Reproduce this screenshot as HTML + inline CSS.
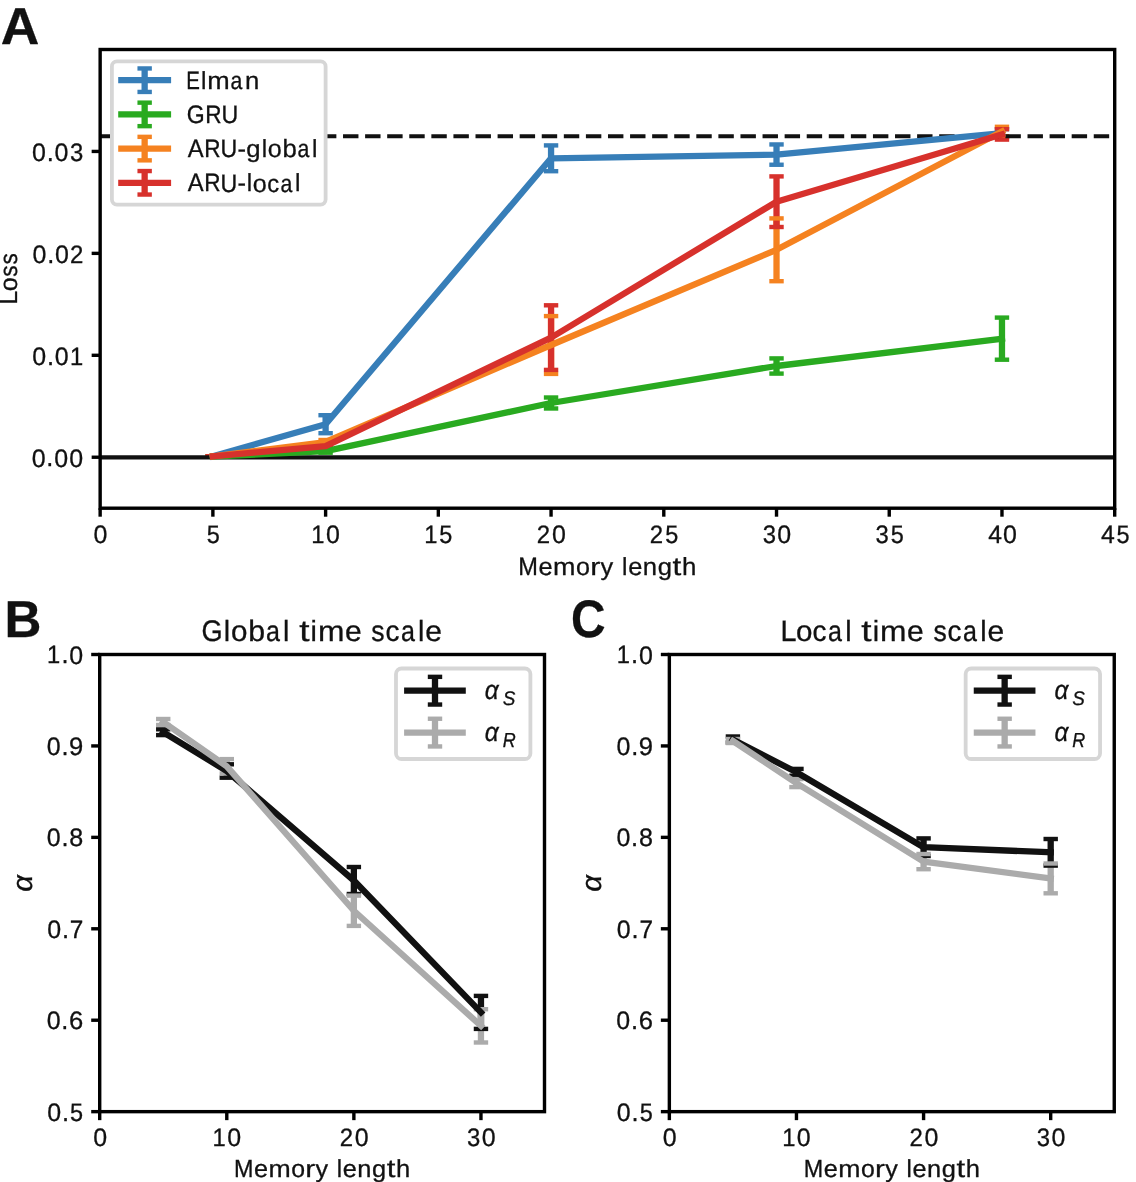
<!DOCTYPE html>
<html><head><meta charset="utf-8"><style>
html,body{margin:0;padding:0;background:#fff;}
svg{display:block;will-change:transform;}
</style></head><body>
<svg width="1136" height="1182" viewBox="0 0 1136 1182" text-rendering="geometricPrecision">
<rect width="1136" height="1182" fill="#fff"/>
<line x1="325.61" y1="415.20" x2="325.61" y2="433.20" stroke="#377eb8" stroke-width="6.3" stroke-linecap="butt"/>
<line x1="551.06" y1="145.40" x2="551.06" y2="171.20" stroke="#377eb8" stroke-width="6.3" stroke-linecap="butt"/>
<line x1="776.52" y1="144.45" x2="776.52" y2="164.75" stroke="#377eb8" stroke-width="6.3" stroke-linecap="butt"/>
<line x1="1001.97" y1="129.10" x2="1001.97" y2="137.10" stroke="#377eb8" stroke-width="6.3" stroke-linecap="butt"/>
<line x1="325.61" y1="449.70" x2="325.61" y2="452.70" stroke="#29aa20" stroke-width="6.3" stroke-linecap="butt"/>
<line x1="551.06" y1="397.50" x2="551.06" y2="408.50" stroke="#29aa20" stroke-width="6.3" stroke-linecap="butt"/>
<line x1="776.52" y1="358.40" x2="776.52" y2="373.60" stroke="#29aa20" stroke-width="6.3" stroke-linecap="butt"/>
<line x1="1001.97" y1="317.60" x2="1001.97" y2="359.70" stroke="#29aa20" stroke-width="6.3" stroke-linecap="butt"/>
<line x1="325.61" y1="440.00" x2="325.61" y2="444.00" stroke="#f58220" stroke-width="6.3" stroke-linecap="butt"/>
<line x1="551.06" y1="316.10" x2="551.06" y2="373.90" stroke="#f58220" stroke-width="6.3" stroke-linecap="butt"/>
<line x1="776.52" y1="218.40" x2="776.52" y2="281.20" stroke="#f58220" stroke-width="6.3" stroke-linecap="butt"/>
<line x1="1001.97" y1="126.80" x2="1001.97" y2="136.20" stroke="#f58220" stroke-width="6.3" stroke-linecap="butt"/>
<line x1="325.61" y1="445.10" x2="325.61" y2="447.10" stroke="#d7312c" stroke-width="6.3" stroke-linecap="butt"/>
<line x1="551.06" y1="305.30" x2="551.06" y2="369.90" stroke="#d7312c" stroke-width="6.3" stroke-linecap="butt"/>
<line x1="776.52" y1="176.40" x2="776.52" y2="227.00" stroke="#d7312c" stroke-width="6.3" stroke-linecap="butt"/>
<line x1="1001.97" y1="129.20" x2="1001.97" y2="139.60" stroke="#d7312c" stroke-width="6.3" stroke-linecap="butt"/>
<rect x="205.68" y="454.10" width="14.40" height="4.40" fill="#377eb8"/>
<rect x="205.68" y="454.10" width="14.40" height="4.40" fill="#377eb8"/>
<rect x="318.41" y="413.00" width="14.40" height="4.40" fill="#377eb8"/>
<rect x="318.41" y="431.00" width="14.40" height="4.40" fill="#377eb8"/>
<rect x="543.86" y="143.20" width="14.40" height="4.40" fill="#377eb8"/>
<rect x="543.86" y="169.00" width="14.40" height="4.40" fill="#377eb8"/>
<rect x="769.32" y="142.25" width="14.40" height="4.40" fill="#377eb8"/>
<rect x="769.32" y="162.55" width="14.40" height="4.40" fill="#377eb8"/>
<rect x="994.77" y="126.90" width="14.40" height="4.40" fill="#377eb8"/>
<rect x="994.77" y="134.90" width="14.40" height="4.40" fill="#377eb8"/>
<rect x="205.68" y="454.30" width="14.40" height="4.40" fill="#29aa20"/>
<rect x="205.68" y="454.30" width="14.40" height="4.40" fill="#29aa20"/>
<rect x="318.41" y="447.50" width="14.40" height="4.40" fill="#29aa20"/>
<rect x="318.41" y="450.50" width="14.40" height="4.40" fill="#29aa20"/>
<rect x="543.86" y="395.30" width="14.40" height="4.40" fill="#29aa20"/>
<rect x="543.86" y="406.30" width="14.40" height="4.40" fill="#29aa20"/>
<rect x="769.32" y="356.20" width="14.40" height="4.40" fill="#29aa20"/>
<rect x="769.32" y="371.40" width="14.40" height="4.40" fill="#29aa20"/>
<rect x="994.77" y="315.40" width="14.40" height="4.40" fill="#29aa20"/>
<rect x="994.77" y="357.50" width="14.40" height="4.40" fill="#29aa20"/>
<rect x="205.68" y="454.10" width="14.40" height="4.40" fill="#f58220"/>
<rect x="205.68" y="454.10" width="14.40" height="4.40" fill="#f58220"/>
<rect x="318.41" y="437.80" width="14.40" height="4.40" fill="#f58220"/>
<rect x="318.41" y="441.80" width="14.40" height="4.40" fill="#f58220"/>
<rect x="543.86" y="313.90" width="14.40" height="4.40" fill="#f58220"/>
<rect x="543.86" y="371.70" width="14.40" height="4.40" fill="#f58220"/>
<rect x="769.32" y="216.20" width="14.40" height="4.40" fill="#f58220"/>
<rect x="769.32" y="279.00" width="14.40" height="4.40" fill="#f58220"/>
<rect x="994.77" y="124.60" width="14.40" height="4.40" fill="#f58220"/>
<rect x="994.77" y="134.00" width="14.40" height="4.40" fill="#f58220"/>
<rect x="205.68" y="454.10" width="14.40" height="4.40" fill="#d7312c"/>
<rect x="205.68" y="454.10" width="14.40" height="4.40" fill="#d7312c"/>
<rect x="318.41" y="442.90" width="14.40" height="4.40" fill="#d7312c"/>
<rect x="318.41" y="444.90" width="14.40" height="4.40" fill="#d7312c"/>
<rect x="543.86" y="303.10" width="14.40" height="4.40" fill="#d7312c"/>
<rect x="543.86" y="367.70" width="14.40" height="4.40" fill="#d7312c"/>
<rect x="769.32" y="174.20" width="14.40" height="4.40" fill="#d7312c"/>
<rect x="769.32" y="224.80" width="14.40" height="4.40" fill="#d7312c"/>
<rect x="994.77" y="127.00" width="14.40" height="4.40" fill="#d7312c"/>
<rect x="994.77" y="137.40" width="14.40" height="4.40" fill="#d7312c"/>
<line x1="100.15" y1="457.45" x2="1114.70" y2="457.45" stroke="#111" stroke-width="4.3" stroke-linecap="butt"/>
<line x1="100.15" y1="136.2" x2="1114.70" y2="136.2" stroke="#111" stroke-width="4.1" stroke-dasharray="15.42 6.66"/>
<polyline points="212.88,456.30 325.61,424.20 551.06,158.30 776.52,154.60 1001.97,133.10" fill="none" stroke="#377eb8" stroke-width="6.3" stroke-linecap="square" stroke-linejoin="round"/>
<polyline points="212.88,456.50 325.61,451.20 551.06,403.00 776.52,366.00 1001.97,338.65" fill="none" stroke="#29aa20" stroke-width="6.3" stroke-linecap="square" stroke-linejoin="round"/>
<polyline points="212.88,456.30 325.61,442.00 551.06,345.00 776.52,249.80 1001.97,131.50" fill="none" stroke="#f58220" stroke-width="6.3" stroke-linecap="square" stroke-linejoin="round"/>
<polyline points="212.88,456.30 325.61,446.10 551.06,337.60 776.52,201.70 1001.97,134.40" fill="none" stroke="#d7312c" stroke-width="6.3" stroke-linecap="square" stroke-linejoin="round"/>
<rect x="100.15" y="49.50" width="1014.55" height="458.70" fill="none" stroke="#000" stroke-width="3.4"/>
<line x1="100.15" y1="508.20" x2="100.15" y2="516.70" stroke="#000" stroke-width="3.4" stroke-linecap="butt"/>
<line x1="212.88" y1="508.20" x2="212.88" y2="516.70" stroke="#000" stroke-width="3.4" stroke-linecap="butt"/>
<line x1="325.61" y1="508.20" x2="325.61" y2="516.70" stroke="#000" stroke-width="3.4" stroke-linecap="butt"/>
<line x1="438.33" y1="508.20" x2="438.33" y2="516.70" stroke="#000" stroke-width="3.4" stroke-linecap="butt"/>
<line x1="551.06" y1="508.20" x2="551.06" y2="516.70" stroke="#000" stroke-width="3.4" stroke-linecap="butt"/>
<line x1="663.79" y1="508.20" x2="663.79" y2="516.70" stroke="#000" stroke-width="3.4" stroke-linecap="butt"/>
<line x1="776.52" y1="508.20" x2="776.52" y2="516.70" stroke="#000" stroke-width="3.4" stroke-linecap="butt"/>
<line x1="889.24" y1="508.20" x2="889.24" y2="516.70" stroke="#000" stroke-width="3.4" stroke-linecap="butt"/>
<line x1="1001.97" y1="508.20" x2="1001.97" y2="516.70" stroke="#000" stroke-width="3.4" stroke-linecap="butt"/>
<line x1="1114.70" y1="508.20" x2="1114.70" y2="516.70" stroke="#000" stroke-width="3.4" stroke-linecap="butt"/>
<line x1="91.65" y1="457.23" x2="100.15" y2="457.23" stroke="#000" stroke-width="3.4" stroke-linecap="butt"/>
<line x1="91.65" y1="355.30" x2="100.15" y2="355.30" stroke="#000" stroke-width="3.4" stroke-linecap="butt"/>
<line x1="91.65" y1="253.37" x2="100.15" y2="253.37" stroke="#000" stroke-width="3.4" stroke-linecap="butt"/>
<line x1="91.65" y1="151.43" x2="100.15" y2="151.43" stroke="#000" stroke-width="3.4" stroke-linecap="butt"/>
<rect x="111.90" y="61.40" width="213.70" height="143.20" rx="5.0" ry="5.0" fill="#fff" stroke="#d6d6d6" stroke-width="3.8"/>
<line x1="118.20" y1="80.20" x2="171.10" y2="80.20" stroke="#377eb8" stroke-width="6.3" stroke-linecap="butt"/>
<line x1="144.65" y1="68.45" x2="144.65" y2="91.95" stroke="#377eb8" stroke-width="6.3" stroke-linecap="butt"/>
<rect x="137.45" y="66.25" width="14.40" height="4.40" fill="#377eb8"/>
<rect x="137.45" y="89.75" width="14.40" height="4.40" fill="#377eb8"/>
<g fill="#111" stroke="#111"><text transform="matrix(0.5112 0 0 0.6265 186.21 88.80)" font-size="40.0" font-family="Liberation Sans, sans-serif" stroke-width="0.527">E</text><text transform="matrix(0.6069 0 0 0.6185 201.11 88.80)" font-size="40.0" font-family="Liberation Sans, sans-serif" stroke-width="0.490">l</text><text transform="matrix(0.6743 0 0 0.6147 207.37 88.80)" font-size="40.0" font-family="Liberation Sans, sans-serif" stroke-width="0.465">m</text><text transform="matrix(0.5324 0 0 0.6196 230.57 88.91)" font-size="40.0" font-family="Liberation Sans, sans-serif" stroke-width="0.521">a</text><text transform="matrix(0.6424 0 0 0.6147 244.91 88.80)" font-size="40.0" font-family="Liberation Sans, sans-serif" stroke-width="0.477">n</text></g>
<line x1="118.20" y1="114.40" x2="171.10" y2="114.40" stroke="#29aa20" stroke-width="6.3" stroke-linecap="butt"/>
<line x1="144.65" y1="102.65" x2="144.65" y2="126.15" stroke="#29aa20" stroke-width="6.3" stroke-linecap="butt"/>
<rect x="137.45" y="100.45" width="14.40" height="4.40" fill="#29aa20"/>
<rect x="137.45" y="123.95" width="14.40" height="4.40" fill="#29aa20"/>
<g fill="#111" stroke="#111"><text transform="matrix(0.5764 0 0 0.6317 186.75 123.13)" font-size="40.0" font-family="Liberation Sans, sans-serif" stroke-width="0.497">G</text><text transform="matrix(0.5651 0 0 0.6265 205.33 123.03)" font-size="40.0" font-family="Liberation Sans, sans-serif" stroke-width="0.504">R</text><text transform="matrix(0.5796 0 0 0.6302 221.56 123.13)" font-size="40.0" font-family="Liberation Sans, sans-serif" stroke-width="0.496">U</text></g>
<line x1="118.20" y1="148.60" x2="171.10" y2="148.60" stroke="#f58220" stroke-width="6.3" stroke-linecap="butt"/>
<line x1="144.65" y1="136.85" x2="144.65" y2="160.35" stroke="#f58220" stroke-width="6.3" stroke-linecap="butt"/>
<rect x="137.45" y="134.65" width="14.40" height="4.40" fill="#f58220"/>
<rect x="137.45" y="158.15" width="14.40" height="4.40" fill="#f58220"/>
<g fill="#111" stroke="#111"><text transform="matrix(0.5945 0 0 0.6265 187.84 157.26)" font-size="40.0" font-family="Liberation Sans, sans-serif" stroke-width="0.491">A</text><text transform="matrix(0.5651 0 0 0.6265 204.30 157.26)" font-size="40.0" font-family="Liberation Sans, sans-serif" stroke-width="0.504">R</text><text transform="matrix(0.5796 0 0 0.6302 220.53 157.36)" font-size="40.0" font-family="Liberation Sans, sans-serif" stroke-width="0.496">U</text><text transform="matrix(0.6387 0 0 0.6090 237.57 157.26)" font-size="40.0" font-family="Liberation Sans, sans-serif" stroke-width="0.481">-</text><text transform="matrix(0.6424 0 0 0.6078 246.26 157.11)" font-size="40.0" font-family="Liberation Sans, sans-serif" stroke-width="0.480">g</text><text transform="matrix(0.6069 0 0 0.6185 261.64 157.26)" font-size="40.0" font-family="Liberation Sans, sans-serif" stroke-width="0.490">l</text><text transform="matrix(0.6275 0 0 0.6196 267.83 157.37)" font-size="40.0" font-family="Liberation Sans, sans-serif" stroke-width="0.481">o</text><text transform="matrix(0.6424 0 0 0.6221 282.49 157.37)" font-size="40.0" font-family="Liberation Sans, sans-serif" stroke-width="0.474">b</text><text transform="matrix(0.5324 0 0 0.6196 297.52 157.37)" font-size="40.0" font-family="Liberation Sans, sans-serif" stroke-width="0.521">a</text><text transform="matrix(0.6069 0 0 0.6185 312.08 157.26)" font-size="40.0" font-family="Liberation Sans, sans-serif" stroke-width="0.490">l</text></g>
<line x1="118.20" y1="182.80" x2="171.10" y2="182.80" stroke="#d7312c" stroke-width="6.3" stroke-linecap="butt"/>
<line x1="144.65" y1="171.05" x2="144.65" y2="194.55" stroke="#d7312c" stroke-width="6.3" stroke-linecap="butt"/>
<rect x="137.45" y="168.85" width="14.40" height="4.40" fill="#d7312c"/>
<rect x="137.45" y="192.35" width="14.40" height="4.40" fill="#d7312c"/>
<g fill="#111" stroke="#111"><text transform="matrix(0.5945 0 0 0.6265 187.84 191.49)" font-size="40.0" font-family="Liberation Sans, sans-serif" stroke-width="0.491">A</text><text transform="matrix(0.5651 0 0 0.6265 204.30 191.49)" font-size="40.0" font-family="Liberation Sans, sans-serif" stroke-width="0.504">R</text><text transform="matrix(0.5796 0 0 0.6302 220.53 191.59)" font-size="40.0" font-family="Liberation Sans, sans-serif" stroke-width="0.496">U</text><text transform="matrix(0.6387 0 0 0.6090 237.57 191.49)" font-size="40.0" font-family="Liberation Sans, sans-serif" stroke-width="0.481">-</text><text transform="matrix(0.6069 0 0 0.6185 246.66 191.49)" font-size="40.0" font-family="Liberation Sans, sans-serif" stroke-width="0.490">l</text><text transform="matrix(0.6275 0 0 0.6196 252.85 191.60)" font-size="40.0" font-family="Liberation Sans, sans-serif" stroke-width="0.481">o</text><text transform="matrix(0.5934 0 0 0.6196 267.34 191.60)" font-size="40.0" font-family="Liberation Sans, sans-serif" stroke-width="0.495">c</text><text transform="matrix(0.5324 0 0 0.6196 280.54 191.60)" font-size="40.0" font-family="Liberation Sans, sans-serif" stroke-width="0.521">a</text><text transform="matrix(0.6069 0 0 0.6185 295.09 191.49)" font-size="40.0" font-family="Liberation Sans, sans-serif" stroke-width="0.490">l</text></g>
<g fill="#111" stroke="#111"><text transform="matrix(0.6240 0 0 0.6317 32.01 160.78)" font-size="40.0" font-family="Liberation Sans, sans-serif" stroke-width="0.478">0</text><text transform="matrix(0.6366 0 0 0.6860 46.68 160.68)" font-size="40.0" font-family="Liberation Sans, sans-serif" stroke-width="0.454">.</text><text transform="matrix(0.6240 0 0 0.6317 54.53 160.78)" font-size="40.0" font-family="Liberation Sans, sans-serif" stroke-width="0.478">0</text><text transform="matrix(0.5962 0 0 0.6317 69.89 160.78)" font-size="40.0" font-family="Liberation Sans, sans-serif" stroke-width="0.489">3</text></g>
<g fill="#111" stroke="#111"><text transform="matrix(0.6240 0 0 0.6317 32.49 262.72)" font-size="40.0" font-family="Liberation Sans, sans-serif" stroke-width="0.478">0</text><text transform="matrix(0.6366 0 0 0.6860 47.15 262.62)" font-size="40.0" font-family="Liberation Sans, sans-serif" stroke-width="0.454">.</text><text transform="matrix(0.6240 0 0 0.6317 55.00 262.72)" font-size="40.0" font-family="Liberation Sans, sans-serif" stroke-width="0.478">0</text><text transform="matrix(0.5997 0 0 0.6281 69.99 262.62)" font-size="40.0" font-family="Liberation Sans, sans-serif" stroke-width="0.489">2</text></g>
<g fill="#111" stroke="#111"><text transform="matrix(0.6240 0 0 0.6317 32.25 364.65)" font-size="40.0" font-family="Liberation Sans, sans-serif" stroke-width="0.478">0</text><text transform="matrix(0.6366 0 0 0.6860 46.91 364.55)" font-size="40.0" font-family="Liberation Sans, sans-serif" stroke-width="0.454">.</text><text transform="matrix(0.6240 0 0 0.6317 54.77 364.65)" font-size="40.0" font-family="Liberation Sans, sans-serif" stroke-width="0.478">0</text><text transform="matrix(0.5934 0 0 0.6265 70.06 364.55)" font-size="40.0" font-family="Liberation Sans, sans-serif" stroke-width="0.492">1</text></g>
<g fill="#111" stroke="#111"><text transform="matrix(0.6240 0 0 0.6317 31.66 466.58)" font-size="40.0" font-family="Liberation Sans, sans-serif" stroke-width="0.478">0</text><text transform="matrix(0.6366 0 0 0.6860 46.32 466.48)" font-size="40.0" font-family="Liberation Sans, sans-serif" stroke-width="0.454">.</text><text transform="matrix(0.6240 0 0 0.6317 54.18 466.58)" font-size="40.0" font-family="Liberation Sans, sans-serif" stroke-width="0.478">0</text><text transform="matrix(0.6240 0 0 0.6317 69.19 466.58)" font-size="40.0" font-family="Liberation Sans, sans-serif" stroke-width="0.478">0</text></g>
<g fill="#111" stroke="#111"><text transform="matrix(0.6240 0 0 0.6317 93.59 543.00)" font-size="40.0" font-family="Liberation Sans, sans-serif" stroke-width="0.478">0</text></g>
<g fill="#111" stroke="#111"><text transform="matrix(0.5869 0 0 0.6302 206.76 543.00)" font-size="40.0" font-family="Liberation Sans, sans-serif" stroke-width="0.493">5</text></g>
<g fill="#111" stroke="#111"><text transform="matrix(0.5934 0 0 0.6265 311.27 542.90)" font-size="40.0" font-family="Liberation Sans, sans-serif" stroke-width="0.492">1</text><text transform="matrix(0.6240 0 0 0.6317 326.01 543.00)" font-size="40.0" font-family="Liberation Sans, sans-serif" stroke-width="0.478">0</text></g>
<g fill="#111" stroke="#111"><text transform="matrix(0.5934 0 0 0.6265 424.24 542.90)" font-size="40.0" font-family="Liberation Sans, sans-serif" stroke-width="0.492">1</text><text transform="matrix(0.5869 0 0 0.6302 439.33 543.00)" font-size="40.0" font-family="Liberation Sans, sans-serif" stroke-width="0.493">5</text></g>
<g fill="#111" stroke="#111"><text transform="matrix(0.5997 0 0 0.6281 536.87 542.90)" font-size="40.0" font-family="Liberation Sans, sans-serif" stroke-width="0.489">2</text><text transform="matrix(0.6240 0 0 0.6317 551.91 543.00)" font-size="40.0" font-family="Liberation Sans, sans-serif" stroke-width="0.478">0</text></g>
<g fill="#111" stroke="#111"><text transform="matrix(0.5997 0 0 0.6281 649.83 542.90)" font-size="40.0" font-family="Liberation Sans, sans-serif" stroke-width="0.489">2</text><text transform="matrix(0.5869 0 0 0.6302 665.23 543.00)" font-size="40.0" font-family="Liberation Sans, sans-serif" stroke-width="0.493">5</text></g>
<g fill="#111" stroke="#111"><text transform="matrix(0.5962 0 0 0.6317 762.66 543.00)" font-size="40.0" font-family="Liberation Sans, sans-serif" stroke-width="0.489">3</text><text transform="matrix(0.6240 0 0 0.6317 777.33 543.00)" font-size="40.0" font-family="Liberation Sans, sans-serif" stroke-width="0.478">0</text></g>
<g fill="#111" stroke="#111"><text transform="matrix(0.5962 0 0 0.6317 875.62 543.00)" font-size="40.0" font-family="Liberation Sans, sans-serif" stroke-width="0.489">3</text><text transform="matrix(0.5869 0 0 0.6302 890.65 543.00)" font-size="40.0" font-family="Liberation Sans, sans-serif" stroke-width="0.493">5</text></g>
<g fill="#111" stroke="#111"><text transform="matrix(0.6192 0 0 0.6265 988.16 542.90)" font-size="40.0" font-family="Liberation Sans, sans-serif" stroke-width="0.482">4</text><text transform="matrix(0.6240 0 0 0.6317 1003.08 543.00)" font-size="40.0" font-family="Liberation Sans, sans-serif" stroke-width="0.478">0</text></g>
<g fill="#111" stroke="#111"><text transform="matrix(0.6192 0 0 0.6265 1101.12 542.90)" font-size="40.0" font-family="Liberation Sans, sans-serif" stroke-width="0.482">4</text><text transform="matrix(0.5869 0 0 0.6302 1116.40 543.00)" font-size="40.0" font-family="Liberation Sans, sans-serif" stroke-width="0.493">5</text></g>
<g fill="#111" stroke="#111"><text transform="matrix(0.5900 0 0 0.6265 518.28 575.10)" font-size="40.0" font-family="Liberation Sans, sans-serif" stroke-width="0.493">M</text><text transform="matrix(0.6371 0 0 0.6196 538.50 575.21)" font-size="40.0" font-family="Liberation Sans, sans-serif" stroke-width="0.477">e</text><text transform="matrix(0.6743 0 0 0.6147 553.11 575.10)" font-size="40.0" font-family="Liberation Sans, sans-serif" stroke-width="0.465">m</text><text transform="matrix(0.6275 0 0 0.6196 576.02 575.21)" font-size="40.0" font-family="Liberation Sans, sans-serif" stroke-width="0.481">o</text><text transform="matrix(0.7552 0 0 0.6147 590.32 575.10)" font-size="40.0" font-family="Liberation Sans, sans-serif" stroke-width="0.438">r</text><text transform="matrix(0.6347 0 0 0.6061 600.58 574.97)" font-size="40.0" font-family="Liberation Sans, sans-serif" stroke-width="0.484">y</text><text transform="matrix(0.6069 0 0 0.6185 622.01 575.10)" font-size="40.0" font-family="Liberation Sans, sans-serif" stroke-width="0.490">l</text><text transform="matrix(0.6371 0 0 0.6196 628.18 575.21)" font-size="40.0" font-family="Liberation Sans, sans-serif" stroke-width="0.477">e</text><text transform="matrix(0.6424 0 0 0.6147 642.87 575.10)" font-size="40.0" font-family="Liberation Sans, sans-serif" stroke-width="0.477">n</text><text transform="matrix(0.6424 0 0 0.6078 657.64 574.95)" font-size="40.0" font-family="Liberation Sans, sans-serif" stroke-width="0.480">g</text><text transform="matrix(0.7867 0 0 0.6352 672.60 574.91)" font-size="40.0" font-family="Liberation Sans, sans-serif" stroke-width="0.422">t</text><text transform="matrix(0.6462 0 0 0.6185 681.99 575.10)" font-size="40.0" font-family="Liberation Sans, sans-serif" stroke-width="0.474">h</text></g>
<g fill="#111" stroke="#111" transform="translate(17.00,278.25) rotate(-90)"><text transform="matrix(0.6101 0 0 0.6265 -26.17 0.00)" font-size="40.0" font-family="Liberation Sans, sans-serif" stroke-width="0.485">L</text><text transform="matrix(0.6275 0 0 0.6196 -13.08 0.11)" font-size="40.0" font-family="Liberation Sans, sans-serif" stroke-width="0.481">o</text><text transform="matrix(0.5630 0 0 0.6196 1.39 0.11)" font-size="40.0" font-family="Liberation Sans, sans-serif" stroke-width="0.507">s</text><text transform="matrix(0.5630 0 0 0.6196 13.69 0.11)" font-size="40.0" font-family="Liberation Sans, sans-serif" stroke-width="0.507">s</text></g>
<text transform="matrix(1.3358 0 0 1.3018 0.66 43.80)" font-size="40.0" font-family="Liberation Sans, sans-serif" font-weight="bold" fill="#111" stroke="#111" stroke-width="0.227">A</text>
<line x1="163.24" y1="729.30" x2="163.24" y2="735.10" stroke="#111111" stroke-width="6.3" stroke-linecap="butt"/>
<line x1="226.79" y1="764.30" x2="226.79" y2="777.70" stroke="#111111" stroke-width="6.3" stroke-linecap="butt"/>
<line x1="353.87" y1="867.00" x2="353.87" y2="894.00" stroke="#111111" stroke-width="6.3" stroke-linecap="butt"/>
<line x1="480.96" y1="995.90" x2="480.96" y2="1028.90" stroke="#111111" stroke-width="6.3" stroke-linecap="butt"/>
<line x1="163.24" y1="719.00" x2="163.24" y2="725.00" stroke="#ababab" stroke-width="6.3" stroke-linecap="butt"/>
<line x1="226.79" y1="759.10" x2="226.79" y2="773.50" stroke="#ababab" stroke-width="6.3" stroke-linecap="butt"/>
<line x1="353.87" y1="895.60" x2="353.87" y2="925.90" stroke="#ababab" stroke-width="6.3" stroke-linecap="butt"/>
<line x1="480.96" y1="1009.20" x2="480.96" y2="1042.50" stroke="#ababab" stroke-width="6.3" stroke-linecap="butt"/>
<rect x="156.04" y="727.10" width="14.40" height="4.40" fill="#111111"/>
<rect x="156.04" y="732.90" width="14.40" height="4.40" fill="#111111"/>
<rect x="219.59" y="762.10" width="14.40" height="4.40" fill="#111111"/>
<rect x="219.59" y="775.50" width="14.40" height="4.40" fill="#111111"/>
<rect x="346.67" y="864.80" width="14.40" height="4.40" fill="#111111"/>
<rect x="346.67" y="891.80" width="14.40" height="4.40" fill="#111111"/>
<rect x="473.76" y="993.70" width="14.40" height="4.40" fill="#111111"/>
<rect x="473.76" y="1026.70" width="14.40" height="4.40" fill="#111111"/>
<rect x="156.04" y="716.80" width="14.40" height="4.40" fill="#ababab"/>
<rect x="156.04" y="722.80" width="14.40" height="4.40" fill="#ababab"/>
<rect x="219.59" y="756.90" width="14.40" height="4.40" fill="#ababab"/>
<rect x="219.59" y="771.30" width="14.40" height="4.40" fill="#ababab"/>
<rect x="346.67" y="893.40" width="14.40" height="4.40" fill="#ababab"/>
<rect x="346.67" y="923.70" width="14.40" height="4.40" fill="#ababab"/>
<rect x="473.76" y="1007.00" width="14.40" height="4.40" fill="#ababab"/>
<rect x="473.76" y="1040.30" width="14.40" height="4.40" fill="#ababab"/>
<polyline points="163.24,732.20 226.79,771.00 353.87,880.50 480.96,1012.40" fill="none" stroke="#111111" stroke-width="6.3" stroke-linecap="square" stroke-linejoin="round"/>
<polyline points="163.24,722.00 226.79,766.30 353.87,910.75 480.96,1025.85" fill="none" stroke="#ababab" stroke-width="6.3" stroke-linecap="square" stroke-linejoin="round"/>
<rect x="99.70" y="654.50" width="444.80" height="457.15" fill="none" stroke="#000" stroke-width="3.4"/>
<line x1="99.70" y1="1111.65" x2="99.70" y2="1120.15" stroke="#000" stroke-width="3.4" stroke-linecap="butt"/>
<line x1="226.79" y1="1111.65" x2="226.79" y2="1120.15" stroke="#000" stroke-width="3.4" stroke-linecap="butt"/>
<line x1="353.87" y1="1111.65" x2="353.87" y2="1120.15" stroke="#000" stroke-width="3.4" stroke-linecap="butt"/>
<line x1="480.96" y1="1111.65" x2="480.96" y2="1120.15" stroke="#000" stroke-width="3.4" stroke-linecap="butt"/>
<line x1="91.20" y1="1111.65" x2="99.70" y2="1111.65" stroke="#000" stroke-width="3.4" stroke-linecap="butt"/>
<line x1="91.20" y1="1020.22" x2="99.70" y2="1020.22" stroke="#000" stroke-width="3.4" stroke-linecap="butt"/>
<line x1="91.20" y1="928.79" x2="99.70" y2="928.79" stroke="#000" stroke-width="3.4" stroke-linecap="butt"/>
<line x1="91.20" y1="837.36" x2="99.70" y2="837.36" stroke="#000" stroke-width="3.4" stroke-linecap="butt"/>
<line x1="91.20" y1="745.93" x2="99.70" y2="745.93" stroke="#000" stroke-width="3.4" stroke-linecap="butt"/>
<line x1="91.20" y1="654.50" x2="99.70" y2="654.50" stroke="#000" stroke-width="3.4" stroke-linecap="butt"/>
<rect x="396.00" y="668.50" width="134.40" height="90.50" rx="5.6" ry="5.6" fill="#fff" stroke="#d6d6d6" stroke-width="3.8"/>
<line x1="404.10" y1="690.70" x2="465.80" y2="690.70" stroke="#111111" stroke-width="6.3" stroke-linecap="butt"/>
<line x1="435.00" y1="676.85" x2="435.00" y2="704.55" stroke="#111111" stroke-width="6.3" stroke-linecap="butt"/>
<rect x="427.80" y="674.65" width="14.40" height="4.40" fill="#111111"/>
<rect x="427.80" y="702.35" width="14.40" height="4.40" fill="#111111"/>
<line x1="404.10" y1="732.60" x2="465.80" y2="732.60" stroke="#ababab" stroke-width="6.3" stroke-linecap="butt"/>
<line x1="435.00" y1="718.75" x2="435.00" y2="746.45" stroke="#ababab" stroke-width="6.3" stroke-linecap="butt"/>
<rect x="427.80" y="716.55" width="14.40" height="4.40" fill="#ababab"/>
<rect x="427.80" y="744.25" width="14.40" height="4.40" fill="#ababab"/>
<text transform="matrix(0.6099 0 0 0.6621 484.75 699.34)" font-size="40.0" font-family="Liberation Sans, sans-serif" font-style="italic" fill="#111" stroke="#111" stroke-width="0.472">α</text>
<text transform="matrix(0.4741 0 0 0.4912 502.68 704.70)" font-size="40.0" font-family="Liberation Sans, sans-serif" font-style="italic" fill="#111" stroke="#111" stroke-width="0.622">S</text>
<text transform="matrix(0.6099 0 0 0.6621 484.75 741.24)" font-size="40.0" font-family="Liberation Sans, sans-serif" font-style="italic" fill="#111" stroke="#111" stroke-width="0.472">α</text>
<text transform="matrix(0.4491 0 0 0.5055 502.66 746.80)" font-size="40.0" font-family="Liberation Sans, sans-serif" font-style="italic" fill="#111" stroke="#111" stroke-width="0.629">R</text>
<g fill="#111" stroke="#111"><text transform="matrix(0.6240 0 0 0.6317 47.22 1120.65)" font-size="40.0" font-family="Liberation Sans, sans-serif" stroke-width="0.478">0</text><text transform="matrix(0.6366 0 0 0.6860 61.88 1120.55)" font-size="40.0" font-family="Liberation Sans, sans-serif" stroke-width="0.454">.</text><text transform="matrix(0.5869 0 0 0.6302 70.09 1120.65)" font-size="40.0" font-family="Liberation Sans, sans-serif" stroke-width="0.493">5</text></g>
<g fill="#111" stroke="#111"><text transform="matrix(0.6240 0 0 0.6317 46.69 1029.22)" font-size="40.0" font-family="Liberation Sans, sans-serif" stroke-width="0.478">0</text><text transform="matrix(0.6366 0 0 0.6860 61.35 1029.12)" font-size="40.0" font-family="Liberation Sans, sans-serif" stroke-width="0.454">.</text><text transform="matrix(0.6410 0 0 0.6317 69.04 1029.22)" font-size="40.0" font-family="Liberation Sans, sans-serif" stroke-width="0.471">6</text></g>
<g fill="#111" stroke="#111"><text transform="matrix(0.6240 0 0 0.6317 47.22 937.79)" font-size="40.0" font-family="Liberation Sans, sans-serif" stroke-width="0.478">0</text><text transform="matrix(0.6366 0 0 0.6860 61.88 937.69)" font-size="40.0" font-family="Liberation Sans, sans-serif" stroke-width="0.454">.</text><text transform="matrix(0.6096 0 0 0.6265 69.87 937.69)" font-size="40.0" font-family="Liberation Sans, sans-serif" stroke-width="0.485">7</text></g>
<g fill="#111" stroke="#111"><text transform="matrix(0.6240 0 0 0.6317 46.80 846.36)" font-size="40.0" font-family="Liberation Sans, sans-serif" stroke-width="0.478">0</text><text transform="matrix(0.6366 0 0 0.6860 61.47 846.26)" font-size="40.0" font-family="Liberation Sans, sans-serif" stroke-width="0.454">.</text><text transform="matrix(0.6277 0 0 0.6317 69.31 846.36)" font-size="40.0" font-family="Liberation Sans, sans-serif" stroke-width="0.476">8</text></g>
<g fill="#111" stroke="#111"><text transform="matrix(0.6240 0 0 0.6317 46.86 754.93)" font-size="40.0" font-family="Liberation Sans, sans-serif" stroke-width="0.478">0</text><text transform="matrix(0.6366 0 0 0.6860 61.53 754.83)" font-size="40.0" font-family="Liberation Sans, sans-serif" stroke-width="0.454">.</text><text transform="matrix(0.6410 0 0 0.6317 69.10 754.93)" font-size="40.0" font-family="Liberation Sans, sans-serif" stroke-width="0.471">9</text></g>
<g fill="#111" stroke="#111"><text transform="matrix(0.5934 0 0 0.6265 47.03 663.40)" font-size="40.0" font-family="Liberation Sans, sans-serif" stroke-width="0.492">1</text><text transform="matrix(0.6366 0 0 0.6860 61.41 663.40)" font-size="40.0" font-family="Liberation Sans, sans-serif" stroke-width="0.454">.</text><text transform="matrix(0.6240 0 0 0.6317 69.26 663.50)" font-size="40.0" font-family="Liberation Sans, sans-serif" stroke-width="0.478">0</text></g>
<g fill="#111" stroke="#111"><text transform="matrix(0.6240 0 0 0.6317 93.14 1145.80)" font-size="40.0" font-family="Liberation Sans, sans-serif" stroke-width="0.478">0</text></g>
<g fill="#111" stroke="#111"><text transform="matrix(0.5934 0 0 0.6265 212.45 1145.70)" font-size="40.0" font-family="Liberation Sans, sans-serif" stroke-width="0.492">1</text><text transform="matrix(0.6240 0 0 0.6317 227.19 1145.80)" font-size="40.0" font-family="Liberation Sans, sans-serif" stroke-width="0.478">0</text></g>
<g fill="#111" stroke="#111"><text transform="matrix(0.5997 0 0 0.6281 339.68 1145.70)" font-size="40.0" font-family="Liberation Sans, sans-serif" stroke-width="0.489">2</text><text transform="matrix(0.6240 0 0 0.6317 354.72 1145.80)" font-size="40.0" font-family="Liberation Sans, sans-serif" stroke-width="0.478">0</text></g>
<g fill="#111" stroke="#111"><text transform="matrix(0.5962 0 0 0.6317 467.10 1145.80)" font-size="40.0" font-family="Liberation Sans, sans-serif" stroke-width="0.489">3</text><text transform="matrix(0.6240 0 0 0.6317 481.77 1145.80)" font-size="40.0" font-family="Liberation Sans, sans-serif" stroke-width="0.478">0</text></g>
<g fill="#111" stroke="#111"><text transform="matrix(0.5838 0 0 0.6198 234.10 1177.20)" font-size="40.0" font-family="Liberation Sans, sans-serif" stroke-width="0.499">M</text><text transform="matrix(0.6303 0 0 0.6131 254.10 1177.31)" font-size="40.0" font-family="Liberation Sans, sans-serif" stroke-width="0.483">e</text><text transform="matrix(0.6671 0 0 0.6082 268.56 1177.20)" font-size="40.0" font-family="Liberation Sans, sans-serif" stroke-width="0.470">m</text><text transform="matrix(0.6208 0 0 0.6131 291.23 1177.31)" font-size="40.0" font-family="Liberation Sans, sans-serif" stroke-width="0.486">o</text><text transform="matrix(0.7472 0 0 0.6082 305.37 1177.20)" font-size="40.0" font-family="Liberation Sans, sans-serif" stroke-width="0.443">r</text><text transform="matrix(0.6280 0 0 0.5996 315.53 1177.07)" font-size="40.0" font-family="Liberation Sans, sans-serif" stroke-width="0.489">y</text><text transform="matrix(0.6004 0 0 0.6119 336.73 1177.20)" font-size="40.0" font-family="Liberation Sans, sans-serif" stroke-width="0.495">l</text><text transform="matrix(0.6303 0 0 0.6131 342.83 1177.31)" font-size="40.0" font-family="Liberation Sans, sans-serif" stroke-width="0.483">e</text><text transform="matrix(0.6356 0 0 0.6082 357.37 1177.20)" font-size="40.0" font-family="Liberation Sans, sans-serif" stroke-width="0.482">n</text><text transform="matrix(0.6356 0 0 0.6014 371.99 1177.05)" font-size="40.0" font-family="Liberation Sans, sans-serif" stroke-width="0.485">g</text><text transform="matrix(0.7783 0 0 0.6285 386.78 1177.01)" font-size="40.0" font-family="Liberation Sans, sans-serif" stroke-width="0.426">t</text><text transform="matrix(0.6393 0 0 0.6119 396.07 1177.20)" font-size="40.0" font-family="Liberation Sans, sans-serif" stroke-width="0.480">h</text></g>
<g transform="translate(31.90,882.50) rotate(-90)"><text transform="matrix(0.7354 0 0 0.7032 -9.23 -0.28)" font-size="40.0" font-family="Liberation Sans, sans-serif" font-style="italic" fill="#111" stroke="#111" stroke-width="0.417">α</text></g>
<text transform="matrix(1.2787 0 0 1.2982 4.45 637.00)" font-size="40.0" font-family="Liberation Sans, sans-serif" font-weight="bold" fill="#111" stroke="#111" stroke-width="0.233">B</text>
<g fill="#111" stroke="#111"><text transform="matrix(0.6790 0 0 0.7441 201.58 640.92)" font-size="40.0" font-family="Liberation Sans, sans-serif" stroke-width="0.422">G</text><text transform="matrix(0.7149 0 0 0.7286 223.66 640.80)" font-size="40.0" font-family="Liberation Sans, sans-serif" stroke-width="0.416">l</text><text transform="matrix(0.7391 0 0 0.7299 230.95 640.93)" font-size="40.0" font-family="Liberation Sans, sans-serif" stroke-width="0.408">o</text><text transform="matrix(0.7568 0 0 0.7328 248.22 640.92)" font-size="40.0" font-family="Liberation Sans, sans-serif" stroke-width="0.403">b</text><text transform="matrix(0.6272 0 0 0.7299 265.93 640.93)" font-size="40.0" font-family="Liberation Sans, sans-serif" stroke-width="0.442">a</text><text transform="matrix(0.7149 0 0 0.7286 283.08 640.80)" font-size="40.0" font-family="Liberation Sans, sans-serif" stroke-width="0.416">l</text><text transform="matrix(0.9267 0 0 0.7483 299.14 640.58)" font-size="40.0" font-family="Liberation Sans, sans-serif" stroke-width="0.358">t</text><text transform="matrix(0.7149 0 0 0.7286 310.54 640.80)" font-size="40.0" font-family="Liberation Sans, sans-serif" stroke-width="0.416">i</text><text transform="matrix(0.7943 0 0 0.7241 317.91 640.80)" font-size="40.0" font-family="Liberation Sans, sans-serif" stroke-width="0.395">m</text><text transform="matrix(0.7505 0 0 0.7299 344.89 640.93)" font-size="40.0" font-family="Liberation Sans, sans-serif" stroke-width="0.405">e</text><text transform="matrix(0.6632 0 0 0.7299 371.37 640.93)" font-size="40.0" font-family="Liberation Sans, sans-serif" stroke-width="0.431">s</text><text transform="matrix(0.6990 0 0 0.7299 385.40 640.93)" font-size="40.0" font-family="Liberation Sans, sans-serif" stroke-width="0.420">c</text><text transform="matrix(0.6272 0 0 0.7299 400.94 640.93)" font-size="40.0" font-family="Liberation Sans, sans-serif" stroke-width="0.442">a</text><text transform="matrix(0.7149 0 0 0.7286 418.09 640.80)" font-size="40.0" font-family="Liberation Sans, sans-serif" stroke-width="0.416">l</text><text transform="matrix(0.7505 0 0 0.7299 425.36 640.93)" font-size="40.0" font-family="Liberation Sans, sans-serif" stroke-width="0.405">e</text></g>
<line x1="732.91" y1="736.50" x2="732.91" y2="742.50" stroke="#111111" stroke-width="6.3" stroke-linecap="butt"/>
<line x1="796.46" y1="768.90" x2="796.46" y2="775.70" stroke="#111111" stroke-width="6.3" stroke-linecap="butt"/>
<line x1="923.58" y1="838.40" x2="923.58" y2="856.00" stroke="#111111" stroke-width="6.3" stroke-linecap="butt"/>
<line x1="1050.69" y1="839.00" x2="1050.69" y2="865.60" stroke="#111111" stroke-width="6.3" stroke-linecap="butt"/>
<line x1="732.91" y1="739.00" x2="732.91" y2="743.00" stroke="#ababab" stroke-width="6.3" stroke-linecap="butt"/>
<line x1="796.46" y1="779.10" x2="796.46" y2="787.10" stroke="#ababab" stroke-width="6.3" stroke-linecap="butt"/>
<line x1="923.58" y1="854.00" x2="923.58" y2="869.20" stroke="#ababab" stroke-width="6.3" stroke-linecap="butt"/>
<line x1="1050.69" y1="863.50" x2="1050.69" y2="893.30" stroke="#ababab" stroke-width="6.3" stroke-linecap="butt"/>
<rect x="725.71" y="734.30" width="14.40" height="4.40" fill="#111111"/>
<rect x="725.71" y="740.30" width="14.40" height="4.40" fill="#111111"/>
<rect x="789.26" y="766.70" width="14.40" height="4.40" fill="#111111"/>
<rect x="789.26" y="773.50" width="14.40" height="4.40" fill="#111111"/>
<rect x="916.38" y="836.20" width="14.40" height="4.40" fill="#111111"/>
<rect x="916.38" y="853.80" width="14.40" height="4.40" fill="#111111"/>
<rect x="1043.49" y="836.80" width="14.40" height="4.40" fill="#111111"/>
<rect x="1043.49" y="863.40" width="14.40" height="4.40" fill="#111111"/>
<rect x="725.71" y="736.80" width="14.40" height="4.40" fill="#ababab"/>
<rect x="725.71" y="740.80" width="14.40" height="4.40" fill="#ababab"/>
<rect x="789.26" y="776.90" width="14.40" height="4.40" fill="#ababab"/>
<rect x="789.26" y="784.90" width="14.40" height="4.40" fill="#ababab"/>
<rect x="916.38" y="851.80" width="14.40" height="4.40" fill="#ababab"/>
<rect x="916.38" y="867.00" width="14.40" height="4.40" fill="#ababab"/>
<rect x="1043.49" y="861.30" width="14.40" height="4.40" fill="#ababab"/>
<rect x="1043.49" y="891.10" width="14.40" height="4.40" fill="#ababab"/>
<polyline points="732.91,739.50 796.46,772.30 923.58,847.20 1050.69,852.30" fill="none" stroke="#111111" stroke-width="6.3" stroke-linecap="square" stroke-linejoin="round"/>
<polyline points="732.91,741.00 796.46,783.10 923.58,861.60 1050.69,878.40" fill="none" stroke="#ababab" stroke-width="6.3" stroke-linecap="square" stroke-linejoin="round"/>
<rect x="669.35" y="654.50" width="444.90" height="457.15" fill="none" stroke="#000" stroke-width="3.4"/>
<line x1="669.35" y1="1111.65" x2="669.35" y2="1120.15" stroke="#000" stroke-width="3.4" stroke-linecap="butt"/>
<line x1="796.46" y1="1111.65" x2="796.46" y2="1120.15" stroke="#000" stroke-width="3.4" stroke-linecap="butt"/>
<line x1="923.58" y1="1111.65" x2="923.58" y2="1120.15" stroke="#000" stroke-width="3.4" stroke-linecap="butt"/>
<line x1="1050.69" y1="1111.65" x2="1050.69" y2="1120.15" stroke="#000" stroke-width="3.4" stroke-linecap="butt"/>
<line x1="660.85" y1="1111.65" x2="669.35" y2="1111.65" stroke="#000" stroke-width="3.4" stroke-linecap="butt"/>
<line x1="660.85" y1="1020.22" x2="669.35" y2="1020.22" stroke="#000" stroke-width="3.4" stroke-linecap="butt"/>
<line x1="660.85" y1="928.79" x2="669.35" y2="928.79" stroke="#000" stroke-width="3.4" stroke-linecap="butt"/>
<line x1="660.85" y1="837.36" x2="669.35" y2="837.36" stroke="#000" stroke-width="3.4" stroke-linecap="butt"/>
<line x1="660.85" y1="745.93" x2="669.35" y2="745.93" stroke="#000" stroke-width="3.4" stroke-linecap="butt"/>
<line x1="660.85" y1="654.50" x2="669.35" y2="654.50" stroke="#000" stroke-width="3.4" stroke-linecap="butt"/>
<rect x="965.65" y="668.50" width="134.40" height="90.50" rx="5.6" ry="5.6" fill="#fff" stroke="#d6d6d6" stroke-width="3.8"/>
<line x1="973.75" y1="690.70" x2="1035.45" y2="690.70" stroke="#111111" stroke-width="6.3" stroke-linecap="butt"/>
<line x1="1004.65" y1="676.85" x2="1004.65" y2="704.55" stroke="#111111" stroke-width="6.3" stroke-linecap="butt"/>
<rect x="997.45" y="674.65" width="14.40" height="4.40" fill="#111111"/>
<rect x="997.45" y="702.35" width="14.40" height="4.40" fill="#111111"/>
<line x1="973.75" y1="732.60" x2="1035.45" y2="732.60" stroke="#ababab" stroke-width="6.3" stroke-linecap="butt"/>
<line x1="1004.65" y1="718.75" x2="1004.65" y2="746.45" stroke="#ababab" stroke-width="6.3" stroke-linecap="butt"/>
<rect x="997.45" y="716.55" width="14.40" height="4.40" fill="#ababab"/>
<rect x="997.45" y="744.25" width="14.40" height="4.40" fill="#ababab"/>
<text transform="matrix(0.6099 0 0 0.6621 1054.40 699.34)" font-size="40.0" font-family="Liberation Sans, sans-serif" font-style="italic" fill="#111" stroke="#111" stroke-width="0.472">α</text>
<text transform="matrix(0.4741 0 0 0.4912 1072.33 704.70)" font-size="40.0" font-family="Liberation Sans, sans-serif" font-style="italic" fill="#111" stroke="#111" stroke-width="0.622">S</text>
<text transform="matrix(0.6099 0 0 0.6621 1054.40 741.24)" font-size="40.0" font-family="Liberation Sans, sans-serif" font-style="italic" fill="#111" stroke="#111" stroke-width="0.472">α</text>
<text transform="matrix(0.4491 0 0 0.5055 1072.31 746.80)" font-size="40.0" font-family="Liberation Sans, sans-serif" font-style="italic" fill="#111" stroke="#111" stroke-width="0.629">R</text>
<g fill="#111" stroke="#111"><text transform="matrix(0.6240 0 0 0.6317 616.87 1120.65)" font-size="40.0" font-family="Liberation Sans, sans-serif" stroke-width="0.478">0</text><text transform="matrix(0.6366 0 0 0.6860 631.53 1120.55)" font-size="40.0" font-family="Liberation Sans, sans-serif" stroke-width="0.454">.</text><text transform="matrix(0.5869 0 0 0.6302 639.74 1120.65)" font-size="40.0" font-family="Liberation Sans, sans-serif" stroke-width="0.493">5</text></g>
<g fill="#111" stroke="#111"><text transform="matrix(0.6240 0 0 0.6317 616.34 1029.22)" font-size="40.0" font-family="Liberation Sans, sans-serif" stroke-width="0.478">0</text><text transform="matrix(0.6366 0 0 0.6860 631.00 1029.12)" font-size="40.0" font-family="Liberation Sans, sans-serif" stroke-width="0.454">.</text><text transform="matrix(0.6410 0 0 0.6317 638.69 1029.22)" font-size="40.0" font-family="Liberation Sans, sans-serif" stroke-width="0.471">6</text></g>
<g fill="#111" stroke="#111"><text transform="matrix(0.6240 0 0 0.6317 616.87 937.79)" font-size="40.0" font-family="Liberation Sans, sans-serif" stroke-width="0.478">0</text><text transform="matrix(0.6366 0 0 0.6860 631.53 937.69)" font-size="40.0" font-family="Liberation Sans, sans-serif" stroke-width="0.454">.</text><text transform="matrix(0.6096 0 0 0.6265 639.52 937.69)" font-size="40.0" font-family="Liberation Sans, sans-serif" stroke-width="0.485">7</text></g>
<g fill="#111" stroke="#111"><text transform="matrix(0.6240 0 0 0.6317 616.45 846.36)" font-size="40.0" font-family="Liberation Sans, sans-serif" stroke-width="0.478">0</text><text transform="matrix(0.6366 0 0 0.6860 631.12 846.26)" font-size="40.0" font-family="Liberation Sans, sans-serif" stroke-width="0.454">.</text><text transform="matrix(0.6277 0 0 0.6317 638.96 846.36)" font-size="40.0" font-family="Liberation Sans, sans-serif" stroke-width="0.476">8</text></g>
<g fill="#111" stroke="#111"><text transform="matrix(0.6240 0 0 0.6317 616.51 754.93)" font-size="40.0" font-family="Liberation Sans, sans-serif" stroke-width="0.478">0</text><text transform="matrix(0.6366 0 0 0.6860 631.18 754.83)" font-size="40.0" font-family="Liberation Sans, sans-serif" stroke-width="0.454">.</text><text transform="matrix(0.6410 0 0 0.6317 638.75 754.93)" font-size="40.0" font-family="Liberation Sans, sans-serif" stroke-width="0.471">9</text></g>
<g fill="#111" stroke="#111"><text transform="matrix(0.5934 0 0 0.6265 616.68 663.40)" font-size="40.0" font-family="Liberation Sans, sans-serif" stroke-width="0.492">1</text><text transform="matrix(0.6366 0 0 0.6860 631.06 663.40)" font-size="40.0" font-family="Liberation Sans, sans-serif" stroke-width="0.454">.</text><text transform="matrix(0.6240 0 0 0.6317 638.91 663.50)" font-size="40.0" font-family="Liberation Sans, sans-serif" stroke-width="0.478">0</text></g>
<g fill="#111" stroke="#111"><text transform="matrix(0.6240 0 0 0.6317 662.79 1145.80)" font-size="40.0" font-family="Liberation Sans, sans-serif" stroke-width="0.478">0</text></g>
<g fill="#111" stroke="#111"><text transform="matrix(0.5934 0 0 0.6265 782.13 1145.70)" font-size="40.0" font-family="Liberation Sans, sans-serif" stroke-width="0.492">1</text><text transform="matrix(0.6240 0 0 0.6317 796.87 1145.80)" font-size="40.0" font-family="Liberation Sans, sans-serif" stroke-width="0.478">0</text></g>
<g fill="#111" stroke="#111"><text transform="matrix(0.5997 0 0 0.6281 909.39 1145.70)" font-size="40.0" font-family="Liberation Sans, sans-serif" stroke-width="0.489">2</text><text transform="matrix(0.6240 0 0 0.6317 924.43 1145.80)" font-size="40.0" font-family="Liberation Sans, sans-serif" stroke-width="0.478">0</text></g>
<g fill="#111" stroke="#111"><text transform="matrix(0.5962 0 0 0.6317 1036.84 1145.80)" font-size="40.0" font-family="Liberation Sans, sans-serif" stroke-width="0.489">3</text><text transform="matrix(0.6240 0 0 0.6317 1051.51 1145.80)" font-size="40.0" font-family="Liberation Sans, sans-serif" stroke-width="0.478">0</text></g>
<g fill="#111" stroke="#111"><text transform="matrix(0.5838 0 0 0.6198 803.80 1177.20)" font-size="40.0" font-family="Liberation Sans, sans-serif" stroke-width="0.499">M</text><text transform="matrix(0.6303 0 0 0.6131 823.80 1177.31)" font-size="40.0" font-family="Liberation Sans, sans-serif" stroke-width="0.483">e</text><text transform="matrix(0.6671 0 0 0.6082 838.26 1177.20)" font-size="40.0" font-family="Liberation Sans, sans-serif" stroke-width="0.470">m</text><text transform="matrix(0.6208 0 0 0.6131 860.93 1177.31)" font-size="40.0" font-family="Liberation Sans, sans-serif" stroke-width="0.486">o</text><text transform="matrix(0.7472 0 0 0.6082 875.07 1177.20)" font-size="40.0" font-family="Liberation Sans, sans-serif" stroke-width="0.443">r</text><text transform="matrix(0.6280 0 0 0.5996 885.23 1177.07)" font-size="40.0" font-family="Liberation Sans, sans-serif" stroke-width="0.489">y</text><text transform="matrix(0.6004 0 0 0.6119 906.43 1177.20)" font-size="40.0" font-family="Liberation Sans, sans-serif" stroke-width="0.495">l</text><text transform="matrix(0.6303 0 0 0.6131 912.53 1177.31)" font-size="40.0" font-family="Liberation Sans, sans-serif" stroke-width="0.483">e</text><text transform="matrix(0.6356 0 0 0.6082 927.07 1177.20)" font-size="40.0" font-family="Liberation Sans, sans-serif" stroke-width="0.482">n</text><text transform="matrix(0.6356 0 0 0.6014 941.69 1177.05)" font-size="40.0" font-family="Liberation Sans, sans-serif" stroke-width="0.485">g</text><text transform="matrix(0.7783 0 0 0.6285 956.48 1177.01)" font-size="40.0" font-family="Liberation Sans, sans-serif" stroke-width="0.426">t</text><text transform="matrix(0.6393 0 0 0.6119 965.77 1177.20)" font-size="40.0" font-family="Liberation Sans, sans-serif" stroke-width="0.480">h</text></g>
<g transform="translate(601.55,882.50) rotate(-90)"><text transform="matrix(0.7354 0 0 0.7032 -9.23 -0.28)" font-size="40.0" font-family="Liberation Sans, sans-serif" font-style="italic" fill="#111" stroke="#111" stroke-width="0.417">α</text></g>
<text transform="matrix(1.1947 0 0 1.3216 570.99 637.17)" font-size="40.0" font-family="Liberation Sans, sans-serif" font-weight="bold" fill="#111" stroke="#111" stroke-width="0.238">C</text>
<g fill="#111" stroke="#111"><text transform="matrix(0.7187 0 0 0.7380 780.54 640.80)" font-size="40.0" font-family="Liberation Sans, sans-serif" stroke-width="0.412">L</text><text transform="matrix(0.7391 0 0 0.7299 795.97 640.93)" font-size="40.0" font-family="Liberation Sans, sans-serif" stroke-width="0.408">o</text><text transform="matrix(0.6990 0 0 0.7299 812.56 640.93)" font-size="40.0" font-family="Liberation Sans, sans-serif" stroke-width="0.420">c</text><text transform="matrix(0.6272 0 0 0.7299 828.10 640.93)" font-size="40.0" font-family="Liberation Sans, sans-serif" stroke-width="0.442">a</text><text transform="matrix(0.7149 0 0 0.7286 845.25 640.80)" font-size="40.0" font-family="Liberation Sans, sans-serif" stroke-width="0.416">l</text><text transform="matrix(0.9267 0 0 0.7483 861.31 640.58)" font-size="40.0" font-family="Liberation Sans, sans-serif" stroke-width="0.358">t</text><text transform="matrix(0.7149 0 0 0.7286 872.71 640.80)" font-size="40.0" font-family="Liberation Sans, sans-serif" stroke-width="0.416">i</text><text transform="matrix(0.7943 0 0 0.7241 880.08 640.80)" font-size="40.0" font-family="Liberation Sans, sans-serif" stroke-width="0.395">m</text><text transform="matrix(0.7505 0 0 0.7299 907.06 640.93)" font-size="40.0" font-family="Liberation Sans, sans-serif" stroke-width="0.405">e</text><text transform="matrix(0.6632 0 0 0.7299 933.54 640.93)" font-size="40.0" font-family="Liberation Sans, sans-serif" stroke-width="0.431">s</text><text transform="matrix(0.6990 0 0 0.7299 947.57 640.93)" font-size="40.0" font-family="Liberation Sans, sans-serif" stroke-width="0.420">c</text><text transform="matrix(0.6272 0 0 0.7299 963.11 640.93)" font-size="40.0" font-family="Liberation Sans, sans-serif" stroke-width="0.442">a</text><text transform="matrix(0.7149 0 0 0.7286 980.26 640.80)" font-size="40.0" font-family="Liberation Sans, sans-serif" stroke-width="0.416">l</text><text transform="matrix(0.7505 0 0 0.7299 987.53 640.93)" font-size="40.0" font-family="Liberation Sans, sans-serif" stroke-width="0.405">e</text></g>
</svg>
</body></html>
